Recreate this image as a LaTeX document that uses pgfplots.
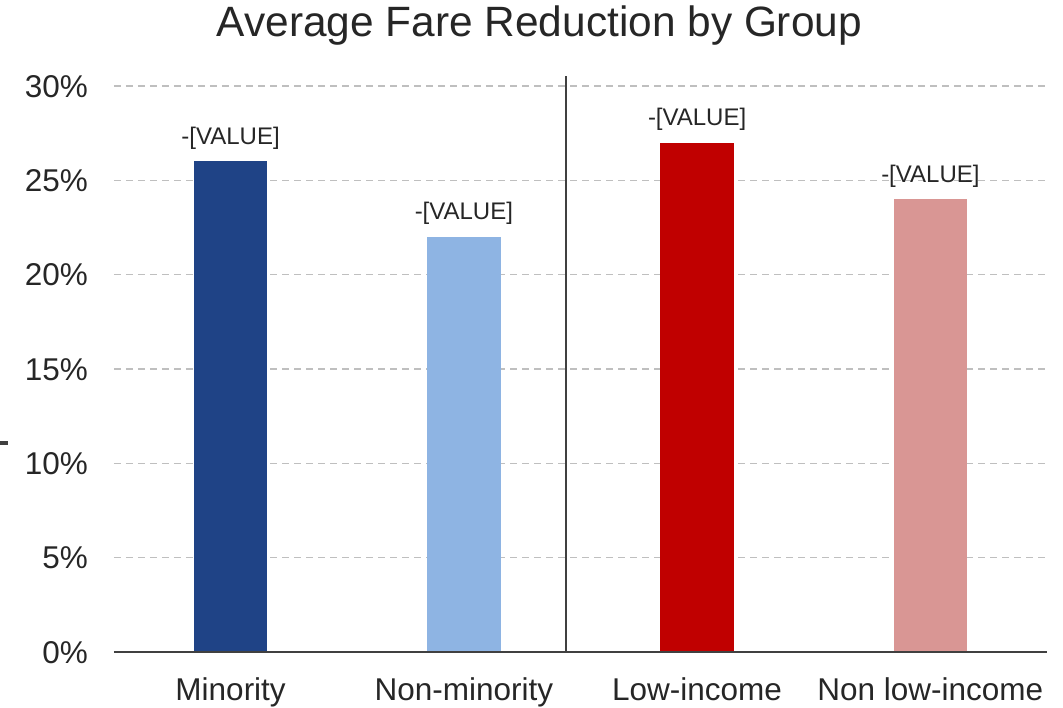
\documentclass[border=0pt]{standalone}
\usepackage{pgfplots}
\pgfplotsset{compat=1.18}
\usepackage{fontspec}
\setmainfont{Liberation Sans}
\usetikzlibrary{calc}
\definecolor{dblue}{HTML}{1F4386}
\definecolor{lblue}{HTML}{8EB4E3}
\definecolor{dred}{HTML}{C00000}
\definecolor{pink}{HTML}{D99694}
\definecolor{gridc}{HTML}{BFBFBF}
\definecolor{axc}{HTML}{404040}
\definecolor{txt}{HTML}{262626}
\begin{document}
\begin{tikzpicture}
\begin{axis}[
  name=ax,
  scale only axis,
  width=933pt, height=566pt,
  xmin=-0.5, xmax=3.5, ymin=0, ymax=30,
  clip=false,
  axis line style={draw=none},
  major tick length=0pt,
  ytick={0,5,10,15,20,25,30},
  yticklabel={\pgfmathprintnumber{\tick}\%},
  /pgf/number format/assume math mode=true,
  ymajorgrids,
  grid style={gridc, line width=1.4pt, dash pattern=on 7pt off 5pt},
  xtick={0,1,2,3},
  xticklabels={Minority,Non-minority,Low-income,Non low-income},
  tick label style={font=\fontsize{31.5}{36}\selectfont, text=txt, inner sep=0pt},
  yticklabel style={anchor=base east, xshift=-26pt, yshift=-11.2pt},
  xticklabel style={anchor=base, yshift=-48pt},
  title={Average Fare Reduction by Group},
  title style={at={(axis description cs:0.456,1.0777)}, anchor=base, font=\fontsize{42.4}{50}\selectfont, text=txt, inner sep=0pt},
  ybar, bar width=73.5pt, bar shift=0pt,
  nodes near coords={{-[VALUE]}},
  every node near coord/.append style={font=\fontsize{24}{28}\selectfont, text=txt, anchor=base, yshift=17pt, inner sep=0pt},
]
\addplot[fill=dblue, draw=none] coordinates {(0,26)};
\addplot[fill=lblue, draw=none] coordinates {(1,22)};
\addplot[fill=dred, draw=none] coordinates {(2,27)};
\addplot[fill=pink, draw=none] coordinates {(3,24)};
\draw[axc, line width=2pt] (axis cs:1.438,0) -- (axis cs:1.438,30.53);
\draw[axc, line width=2pt] (axis cs:-0.5,0) -- (axis cs:3.5,0);
\end{axis}
\fill[axc] ($(ax.south west)+(-114pt,207pt)$) rectangle ($(ax.south west)+(-106pt,211pt)$);
\pgfresetboundingbox
\path[use as bounding box] ($(ax.south west)+(-114pt,-55pt)$) rectangle ($(ax.south west)+(949pt,652pt)$);
\end{tikzpicture}
\end{document}
